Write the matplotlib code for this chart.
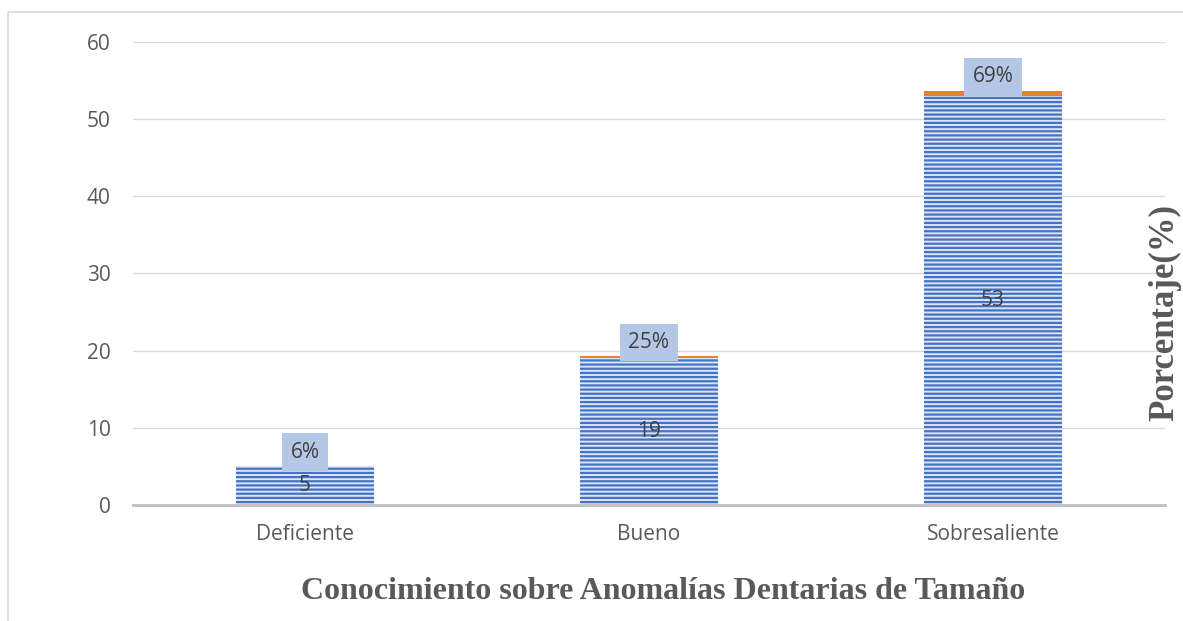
import matplotlib.pyplot as plt
from matplotlib.patches import Rectangle

categories = ['Deficiente', 'Bueno', 'Sobresaliente']
counts = [5, 19, 53]
fractions = [0.06, 0.25, 0.69]
pct_labels = ['6%', '25%', '69%']

fig = plt.figure(figsize=(11.83, 6.21), dpi=100)
ax = fig.add_axes([0.1124, 0.1868, 0.8724, 0.7456])

x = range(len(categories))
plt.rcParams['hatch.linewidth'] = 1.6
blue = ax.bar(x, counts, width=0.4, color='#dce5f5', edgecolor='#4472c4',
              linewidth=0, hatch='----', zorder=2)
orange = ax.bar(x, fractions, width=0.4, bottom=counts, color='#ed7d31',
                linewidth=0, zorder=2)

tick_font = 'Open Sans'
for xi, c in zip(x, counts):
    ax.text(xi, c / 2, str(c), ha='center', va='center', fontsize=15,
            color='#404040', family=tick_font, zorder=3)
for xi, c, f, lab in zip(x, counts, fractions, pct_labels):
    ax.annotate(lab, (xi, c + f), xytext=(0, 10), textcoords='offset points',
                ha='center', va='center', fontsize=15, color='#404040',
                family=tick_font, zorder=4,
                bbox=dict(boxstyle='square,pad=0.4', fc='#b4c7e7', ec='none'))

ax.set_xlim(-0.5, 2.5)
ax.set_ylim(0, 60)
ax.set_yticks(range(0, 61, 10))
ax.set_xticks(list(x))
ax.set_xticklabels(categories)
ax.grid(axis='y', color='#d9d9d9', linewidth=1, zorder=0)
ax.set_axisbelow(True)
for s in ['top', 'right', 'left']:
    ax.spines[s].set_visible(False)
ax.spines['bottom'].set_color('#bfbfbf')
ax.spines['bottom'].set_linewidth(2)
ax.tick_params(axis='both', length=0, labelsize=15, labelcolor='#595959')
ax.tick_params(axis='x', pad=14)
ax.tick_params(axis='y', pad=16)
for t in ax.get_xticklabels() + ax.get_yticklabels():
    t.set_family(tick_font)

fig.text(0.5605, 0.047, 'Conocimiento sobre Anomalías Dentarias de Tamaño',
         ha='center', va='center', fontsize=23, fontweight='bold',
         family='Liberation Serif', color='#595959')
fig.text(0.999, 0.496, 'Porcentaje(%)', rotation=90, ha='right', va='center',
         fontsize=25, fontweight='bold', family='Liberation Serif',
         color='#595959')

fig.patches.append(Rectangle((8 / 1183, -0.05), 1.2, 1 - 12 / 621 + 0.05,
                             transform=fig.transFigure, fill=False,
                             edgecolor='#d9d9d9', linewidth=1.2))

fig.savefig('out.png', dpi=100)
